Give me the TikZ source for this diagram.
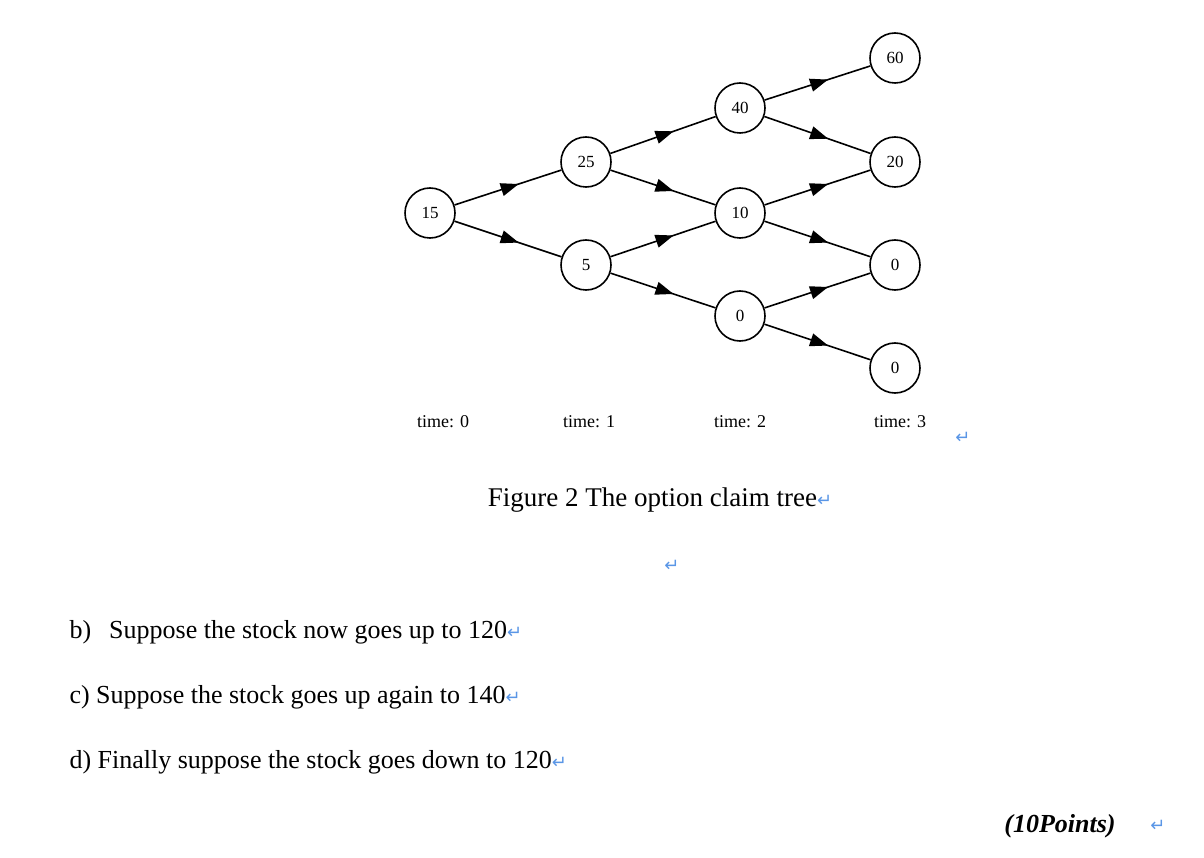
\documentclass[tikz,border=0pt]{standalone}
\usepackage{fontspec}
\setmainfont{Liberation Serif}
\newfontfamily\djv{DejaVu Sans}
\usetikzlibrary{decorations.markings,arrows.meta}
\definecolor{ret}{RGB}{90,150,230}
\begin{document}
\begin{tikzpicture}[x=1pt,y=-1pt,
 nd/.style={circle,draw,line width=1.6pt,minimum size=50pt,inner sep=0pt,font=\fontsize{17}{17}\selectfont},
 ed/.style={line width=1.6pt,postaction={decorate},decoration={markings,mark=at position 0.6 with {\arrow{Triangle[length=18pt,width=13pt]}}}},
 tl/.style={font=\fontsize{18}{18}\selectfont},
 tx/.style={font=\fontsize{26}{26}\selectfont,anchor=west},
 rt/.style={text=ret,font=\djv\fontsize{18}{18}\selectfont}]
\useasboundingbox (0,0) rectangle (1204,858);
\node[nd] (a) at (430,213) {15};
\node[nd] (b1) at (586,162) {25};
\node[nd] (b2) at (586,265) {5};
\node[nd] (c1) at (740,108) {40};
\node[nd] (c2) at (740,213) {10};
\node[nd] (c3) at (740,316) {0};
\node[nd] (d1) at (895,58) {60};
\node[nd] (d2) at (895,162) {20};
\node[nd] (d3) at (895,265) {0};
\node[nd] (d4) at (895,368) {0};
\foreach \u/\v in {a/b1,a/b2,b1/c1,b1/c2,b2/c2,b2/c3,c1/d1,c1/d2,c2/d2,c2/d3,c3/d3,c3/d4}
 \draw[ed] (\u) -- (\v);
\node[tl] (t0) at (443,422) {time: 0};
\node[tl] (t1) at (589,422) {time: 1};
\node[tl] (t2) at (740,422) {time: 2};
\node[tl] (t3) at (900,422) {time: 3};
\node[rt] (r0) at (963,438) {↵};
\node[font=\fontsize{27}{27}\selectfont] (cap) at (660,500) {Figure 2 The option claim tree\textcolor{ret}{\djv\fontsize{18}{18}\selectfont↵}};
\node[rt] (r1) at (672,566) {↵};
\node[tx] (b) at (66,632) {b)\hspace{18pt}Suppose the stock now goes up to 120\textcolor{ret}{\djv\fontsize{18}{18}\selectfont↵}};
\node[tx] (c) at (66,697) {c) Suppose the stock goes up again to 140\textcolor{ret}{\djv\fontsize{18}{18}\selectfont↵}};
\node[tx] (d) at (66,762) {d) Finally suppose the stock goes down to 120\textcolor{ret}{\djv\fontsize{18}{18}\selectfont↵}};
\node[font=\fontsize{26}{26}\selectfont\bfseries\itshape] (p) at (1060,826) {(10Points)};
\node[rt] (r2) at (1158,826) {↵};
\end{tikzpicture}
\end{document}
